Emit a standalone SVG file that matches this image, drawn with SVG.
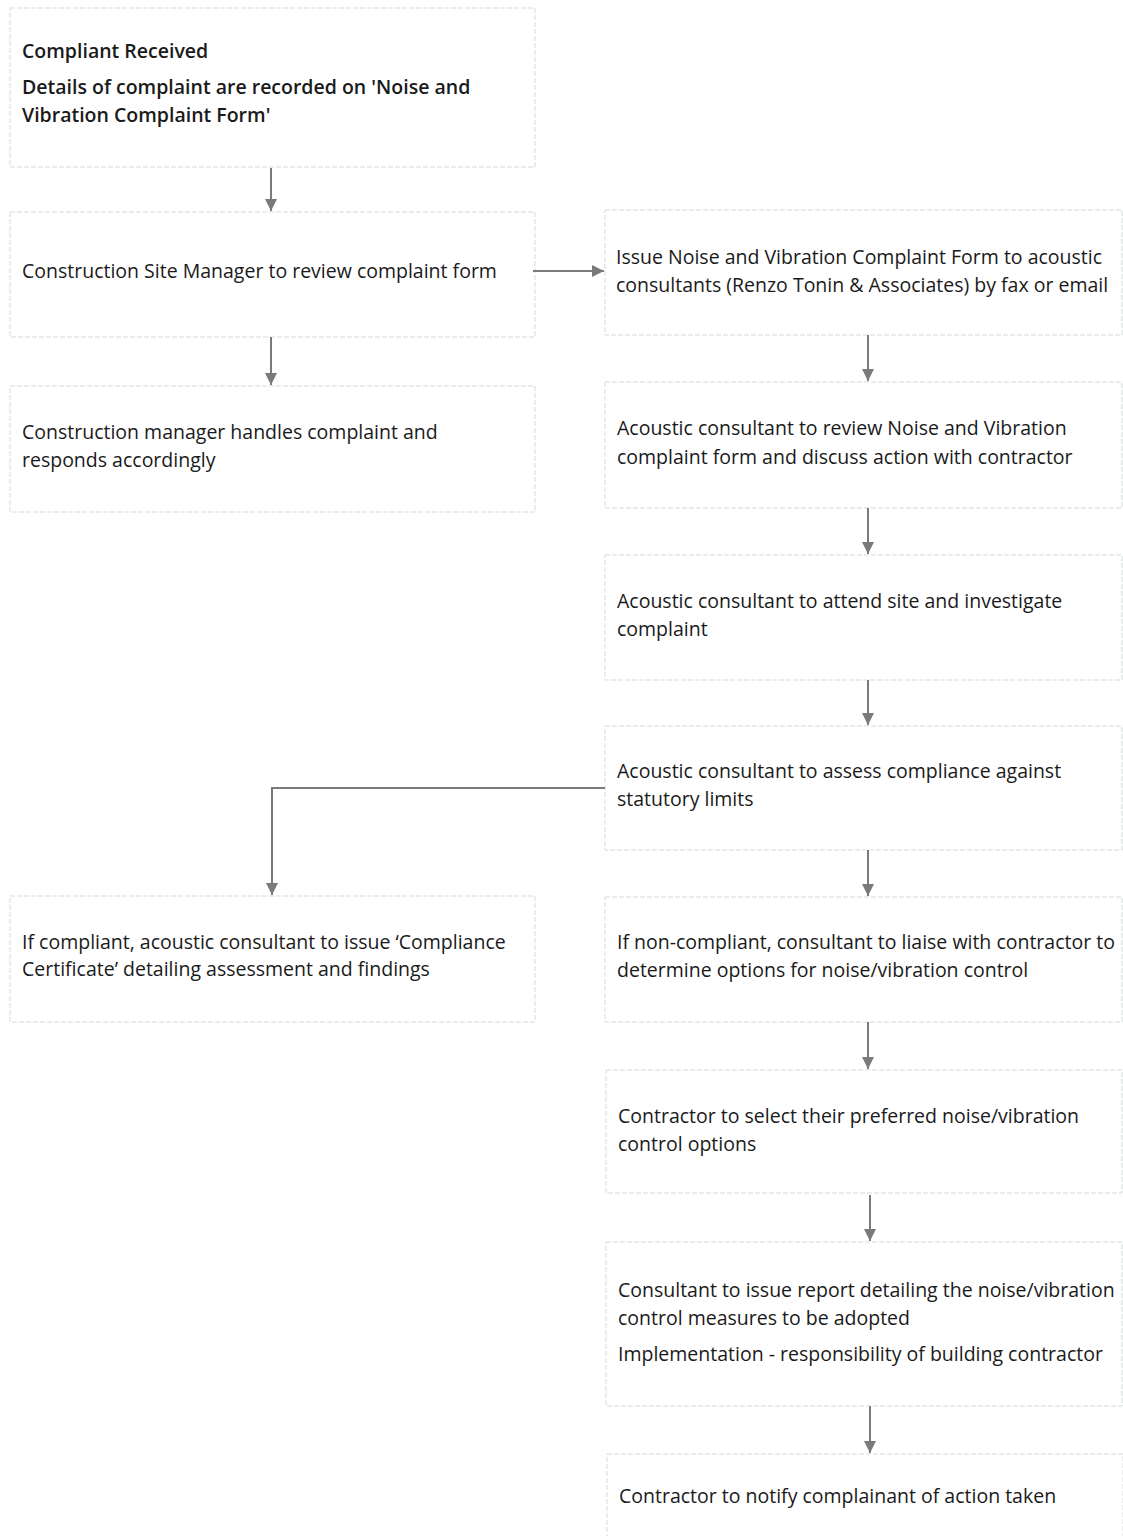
<svg xmlns="http://www.w3.org/2000/svg" width="1123" height="1536" viewBox="0 0 1123 1536">
<style>
.box{fill:#ffffff;stroke:#d6dbdb;stroke-width:1;stroke-dasharray:5 2}
.t{font-family:"Open Sans","Noto Sans","Liberation Sans",sans-serif;font-size:19.5px;fill:#1a1a1a}
.b{font-weight:600}
.c{fill:none;stroke:#7a7a7a;stroke-width:2}
</style>
<defs>
<marker id="ah" viewBox="0 0 10 10" refX="10" refY="5" markerWidth="12" markerHeight="12" markerUnits="userSpaceOnUse" orient="auto">
<path d="M0,0 L10,5 L0,10 z" fill="#7a7a7a"/>
</marker>
</defs>
<rect width="1123" height="1536" fill="#ffffff"/>
<g id="n1"><rect class="box" x="10" y="8" width="525" height="159"/>
<text class="t b" x="22" y="58">Compliant Received</text>
<text class="t b" x="22" y="94">Details of complaint are recorded on 'Noise and</text>
<text class="t b" x="22" y="122">Vibration Complaint Form'</text></g>
<g id="n2"><rect class="box" x="10" y="212" width="525" height="125"/>
<text class="t" x="22" y="278">Construction Site Manager to review complaint form</text></g>
<g id="n3"><rect class="box" x="10" y="386" width="525" height="126"/>
<text class="t" x="22" y="439">Construction manager handles complaint and</text>
<text class="t" x="22" y="467">responds accordingly</text></g>
<g id="n4"><rect class="box" x="605" y="210" width="517" height="125"/>
<text class="t" x="616" y="264">Issue Noise and Vibration Complaint Form to acoustic</text>
<text class="t" x="616" y="292">consultants (Renzo Tonin &amp; Associates) by fax or email</text></g>
<g id="n5"><rect class="box" x="605" y="382" width="517" height="126"/>
<text class="t" x="617" y="435">Acoustic consultant to review Noise and Vibration</text>
<text class="t" x="617" y="464">complaint form and discuss action with contractor</text></g>
<g id="n6"><rect class="box" x="605" y="555" width="517" height="125"/>
<text class="t" x="617" y="608">Acoustic consultant to attend site and investigate</text>
<text class="t" x="617" y="636">complaint</text></g>
<g id="n7"><rect class="box" x="605" y="726" width="517" height="124"/>
<text class="t" x="617" y="778">Acoustic consultant to assess compliance against</text>
<text class="t" x="617" y="806">statutory limits</text></g>
<g id="n8"><rect class="box" x="10" y="896" width="525" height="126"/>
<text class="t" x="22" y="949">If compliant, acoustic consultant to issue ‘Compliance</text>
<text class="t" x="22" y="976">Certificate’ detailing assessment and findings</text></g>
<g id="n9"><rect class="box" x="605" y="897" width="517" height="125"/>
<text class="t" x="617" y="949">If non-compliant, consultant to liaise with contractor to</text>
<text class="t" x="617" y="977">determine options for noise/vibration control</text></g>
<g id="n10"><rect class="box" x="606" y="1070" width="516" height="123"/>
<text class="t" x="618" y="1123">Contractor to select their preferred noise/vibration</text>
<text class="t" x="618" y="1151">control options</text></g>
<g id="n11"><rect class="box" x="606" y="1242" width="516" height="164"/>
<text class="t" x="618" y="1297">Consultant to issue report detailing the noise/vibration</text>
<text class="t" x="618" y="1325">control measures to be adopted</text>
<text class="t" x="618" y="1361">Implementation - responsibility of building contractor</text></g>
<g id="n12"><rect class="box" x="607" y="1454" width="516" height="90"/>
<text class="t" x="619" y="1503">Contractor to notify complainant of action taken</text></g>
<g id="connectors">
<line class="c" x1="271" y1="168" x2="271" y2="211" marker-end="url(#ah)"/>
<line class="c" x1="271" y1="337" x2="271" y2="385" marker-end="url(#ah)"/>
<line class="c" x1="533" y1="271" x2="604" y2="271" marker-end="url(#ah)"/>
<line class="c" x1="868" y1="335" x2="868" y2="381" marker-end="url(#ah)"/>
<line class="c" x1="868" y1="508" x2="868" y2="554" marker-end="url(#ah)"/>
<line class="c" x1="868" y1="680" x2="868" y2="725" marker-end="url(#ah)"/>
<path class="c" d="M605,788 H272 V895" marker-end="url(#ah)"/>
<line class="c" x1="868" y1="850" x2="868" y2="896" marker-end="url(#ah)"/>
<line class="c" x1="868" y1="1022" x2="868" y2="1069" marker-end="url(#ah)"/>
<line class="c" x1="870" y1="1195" x2="870" y2="1241" marker-end="url(#ah)"/>
<line class="c" x1="870" y1="1406" x2="870" y2="1453" marker-end="url(#ah)"/>
</g>
</svg>
